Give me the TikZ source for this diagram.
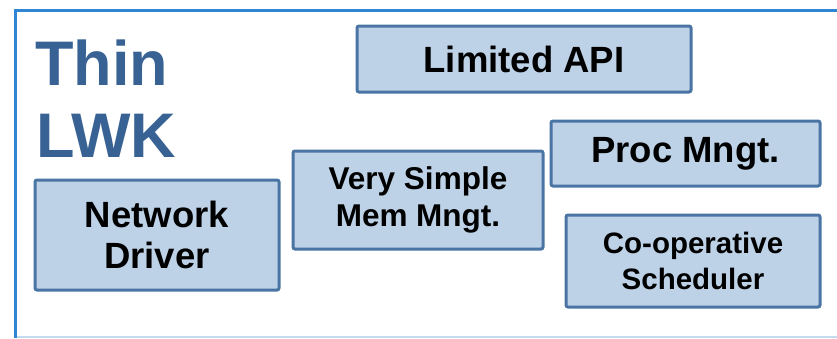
\documentclass[tikz,border=0pt]{standalone}
\usepackage{fontspec}
\setmainfont{Liberation Sans}
\definecolor{framec}{HTML}{2F85D4}
\definecolor{framelight}{HTML}{C4DAEE}
\definecolor{titlec}{HTML}{386294}
\definecolor{boxfill}{HTML}{BED2E7}
\definecolor{boxline}{HTML}{4A74A4}
\begin{document}
\begin{tikzpicture}[x=1pt,y=-1pt,
  modbox/.style={draw=boxline, fill=boxfill, line width=3pt, rounded corners=2pt,
    inner sep=0pt, align=center, font=\bfseries},
  titletext/.style={text=titlec, font=\bfseries\fontsize{63}{72}\selectfont,
    inner sep=0pt, anchor=base west}]
\useasboundingbox (0,0) rectangle (837,338);
% outer frame
\draw[framelight, line width=1.5pt] (15,337) -- (837,337);
\draw[framec, line width=3pt] (837,10) -- (15,10) -- (15,338);
% title
\node[titletext] (t1) at (35,85) {Thin};
\node[titletext] (t2) at (36,157) {LWK};
% modules
\node[modbox, minimum width=244pt, minimum height=110pt,
  font=\bfseries\fontsize{36.5}{41}\selectfont] (net) at (157,235) {Network\\Driver};
\node[modbox, minimum width=334pt, minimum height=66pt,
  font=\bfseries\fontsize{36.5}{41}\selectfont] (api) at (524,59) {Limited API};
\node[modbox, minimum width=269pt, minimum height=65pt,
  font=\bfseries\fontsize{36.5}{41}\selectfont] (proc) at (685.5,153.5) {Proc Mngt.};
\node[modbox, minimum width=250pt, minimum height=98pt,
  font=\bfseries\fontsize{31.5}{37}\selectfont] (mem) at (418,200) {Very Simple\\Mem Mngt.};
\node[modbox, minimum width=254pt, minimum height=92pt,
  font=\bfseries\fontsize{29.5}{36}\selectfont] (sched) at (693,261) {Co-operative\\Scheduler};
\end{tikzpicture}
\end{document}
